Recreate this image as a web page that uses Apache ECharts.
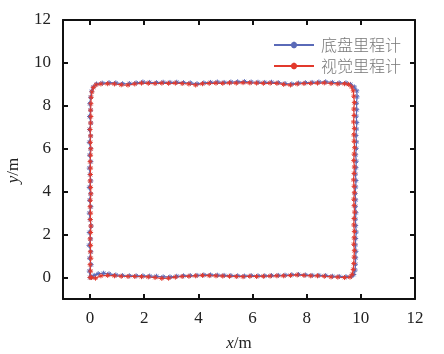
<!DOCTYPE html>
<html>
<head>
<meta charset="utf-8">
<script src="https://cdn.jsdelivr.net/npm/echarts@6/dist/echarts.min.js"></script>
<style>
  html, body { margin: 0; padding: 0; background: #fff; }
  #chart { width: 444px; height: 354px; }
</style>
</head>
<body>
<div id="chart"></div>
<script>
// 刻度
const tickValues = [0, 2, 4, 6, 8, 10, 12];
const seriesNames = ['底盘里程计', '视觉里程计'];

// 底盘里程计
const chassisX = [
  0.00, -0.03, 0.04, -0.02, 0.03, -0.04, 0.02, -0.03, 0.04, 0.00, -0.03, 0.03, -0.02, 0.02, -0.03, 0.03, 0.00, -0.03, 0.03, -0.02, 0.02, -0.03, 0.02, -0.02, 0.03, -0.02, 0.02, -0.01, 0.02, 0.06, 0.12, 0.24,
  0.45, 0.70, 0.95, 1.20, 1.45, 1.70, 1.95, 2.20, 2.45, 2.70, 2.95, 3.20, 3.45, 3.70, 3.95, 4.20, 4.45, 4.70, 4.95, 5.20, 5.45, 5.70, 5.95, 6.20, 6.45, 6.70, 6.95, 7.20, 7.45, 7.70, 7.95, 8.20, 8.45, 8.70, 8.95, 9.20, 9.45,
  9.62, 9.76, 9.85,
  9.86, 9.84, 9.85, 9.83, 9.85, 9.84, 9.82, 9.84, 9.83, 9.81, 9.83, 9.82, 9.80, 9.82, 9.81, 9.79, 9.81, 9.80, 9.82, 9.80, 9.81, 9.83, 9.81, 9.80, 9.82, 9.81, 9.80, 9.79,
  9.74, 9.66,
  9.45, 9.20, 8.95, 8.70, 8.45, 8.20, 7.95, 7.70, 7.45, 7.20, 6.95, 6.70, 6.45, 6.20, 5.95, 5.70, 5.45, 5.20, 4.95, 4.70, 4.45, 4.20, 3.95, 3.70, 3.45, 3.20, 2.95, 2.70, 2.45, 2.20, 1.95, 1.70, 1.45, 1.20, 0.95, 0.70, 0.50, 0.30, 0.15, 0.05
];
const chassisY = [
  0.00, 0.30, 0.60, 0.90, 1.20, 1.50, 1.80, 2.10, 2.40, 2.70, 3.00, 3.30, 3.60, 3.90, 4.20, 4.50, 4.80, 5.10, 5.40, 5.70, 6.00, 6.30, 6.60, 6.90, 7.20, 7.50, 7.80, 8.10, 8.40, 8.68, 8.88, 9.02,
  9.06, 9.08, 9.07, 9.03, 9.04, 9.07, 9.11, 9.09, 9.08, 9.10, 9.09, 9.10, 9.08, 9.07, 9.03, 9.07, 9.09, 9.11, 9.09, 9.11, 9.12, 9.13, 9.11, 9.10, 9.09, 9.10, 9.08, 9.04, 9.02, 9.06, 9.08, 9.09, 9.11, 9.12, 9.09, 9.07, 9.07,
  9.00, 8.88, 8.70,
  8.42, 8.12, 7.82, 7.52, 7.22, 6.92, 6.62, 6.32, 6.02, 5.72, 5.42, 5.12, 4.82, 4.52, 4.22, 3.92, 3.62, 3.32, 3.02, 2.72, 2.42, 2.12, 1.82, 1.52, 1.22, 0.92, 0.62, 0.35,
  0.14, 0.06,
  0.04, 0.05, 0.06, 0.09, 0.10, 0.10, 0.12, 0.14, 0.13, 0.11, 0.10, 0.09, 0.08, 0.08, 0.09, 0.07, 0.08, 0.09, 0.10, 0.11, 0.12, 0.12, 0.10, 0.09, 0.08, 0.06, 0.03, 0.03, 0.06, 0.07, 0.08, 0.08, 0.08, 0.09, 0.12, 0.17, 0.20, 0.18, 0.10, 0.03
];

// 视觉里程计
const visualX = [
  0.00, 0.02, 0.00, 0.03, 0.01, 0.02, 0.00, 0.02, 0.03, 0.01, 0.02, 0.00, 0.01, 0.03, 0.02, 0.00, 0.01, 0.02, 0.00, 0.02, 0.03, 0.01, 0.02, 0.00, 0.02, 0.03, 0.02, 0.03, 0.04, 0.07, 0.12, 0.22,
  0.40, 0.65, 0.90, 1.15, 1.40, 1.65, 1.90, 2.15, 2.40, 2.65, 2.90, 3.15, 3.40, 3.65, 3.90, 4.15, 4.40, 4.65, 4.90, 5.15, 5.40, 5.65, 5.90, 6.15, 6.40, 6.65, 6.90, 7.15, 7.40, 7.65, 7.90, 8.15, 8.40, 8.65, 8.90, 9.15, 9.40,
  9.55, 9.66, 9.72,
  9.74, 9.76, 9.74, 9.75, 9.73, 9.76, 9.74, 9.75, 9.77, 9.75, 9.74, 9.76, 9.75, 9.73, 9.75, 9.76, 9.74, 9.75, 9.77, 9.75, 9.74, 9.76, 9.75, 9.74, 9.76, 9.75, 9.74, 9.72,
  9.68, 9.60,
  9.40, 9.15, 8.90, 8.65, 8.40, 8.15, 7.90, 7.65, 7.40, 7.15, 6.90, 6.65, 6.40, 6.15, 5.90, 5.65, 5.40, 5.15, 4.90, 4.65, 4.40, 4.15, 3.90, 3.65, 3.40, 3.15, 2.90, 2.65, 2.40, 2.15, 1.90, 1.65, 1.40, 1.15, 0.90, 0.65, 0.40, 0.20, 0.05
];
const visualY = [
  0.00, 0.30, 0.60, 0.90, 1.20, 1.50, 1.80, 2.10, 2.40, 2.70, 3.00, 3.30, 3.60, 3.90, 4.20, 4.50, 4.80, 5.10, 5.40, 5.70, 6.00, 6.30, 6.60, 6.90, 7.20, 7.50, 7.80, 8.10, 8.40, 8.65, 8.85, 8.98,
  9.02, 9.03, 9.02, 8.98, 8.97, 9.02, 9.06, 9.05, 9.04, 9.06, 9.05, 9.06, 9.04, 9.02, 8.97, 9.03, 9.05, 9.06, 9.05, 9.07, 9.06, 9.08, 9.07, 9.06, 9.05, 9.06, 9.05, 9.00, 8.97, 9.02, 9.04, 9.05, 9.06, 9.07, 9.04, 9.02, 9.03,
  9.00, 8.88, 8.70,
  8.45, 8.15, 7.85, 7.55, 7.25, 6.95, 6.65, 6.35, 6.05, 5.75, 5.45, 5.15, 4.85, 4.55, 4.25, 3.95, 3.65, 3.35, 3.05, 2.75, 2.45, 2.15, 1.85, 1.55, 1.25, 0.95, 0.65, 0.38,
  0.15, 0.02,
  0.00, 0.02, 0.03, 0.06, 0.08, 0.08, 0.10, 0.12, 0.10, 0.08, 0.08, 0.07, 0.06, 0.05, 0.06, 0.04, 0.05, 0.06, 0.07, 0.08, 0.09, 0.10, 0.08, 0.06, 0.05, 0.02, -0.03, -0.04, 0.00, 0.03, 0.04, 0.05, 0.05, 0.06, 0.08, 0.10, 0.08, -0.03, 0.00
];

const colors = ['#5a6ab8', '#e2392c'];
const serif = '"Liberation Serif", "Times New Roman", serif';
// 星号标记
const starSymbol = 'path://M5,0L5,10M0,5L10,5M1.5,1.5L8.5,8.5M1.5,8.5L8.5,1.5';

const zip = (xs, ys) => xs.map((x, i) => [x, ys[i]]);

const axisCommon = {
  type: 'value',
  min: -1,
  max: 12,
  splitLine: { show: false },
  axisLine: { show: true, onZero: false, lineStyle: { color: '#111', width: 2 } },
  axisTick: { show: true, inside: true, length: 5, customValues: tickValues, lineStyle: { color: '#111', width: 2 } },
};

const nameStyle = {
  fontFamily: serif, fontSize: 17, color: '#222',
  rich: { i: { fontFamily: serif, fontSize: 17, fontStyle: 'italic', color: '#222' } },
};

const chartDom = document.getElementById('chart');
const mychart = echarts.init(chartDom);

const option = {
  animation: false,
  grid: { left: 63, right: 29, top: 20, bottom: 55, containLabel: false, outerBoundsMode: 'none' },
  legend: {
    orient: 'vertical',
    left: 268,
    top: 32,
    itemWidth: 40,
    itemHeight: 8,
    itemGap: 5,
    data: seriesNames,
    textStyle: { fontFamily: '"Noto Sans CJK SC"', fontSize: 16, fontWeight: 300, color: '#777', padding: [0, 0, 0, 2] },
  },
  xAxis: [
    {
      ...axisCommon,
      position: 'bottom',
      name: '{i|x}/m',
      nameLocation: 'middle',
      nameGap: 36,
      nameTextStyle: nameStyle,
      axisLabel: { customValues: tickValues, margin: 11, fontFamily: serif, fontSize: 17, color: '#222' },
    },
    {
      ...axisCommon,
      position: 'top',
      axisLabel: { show: false },
    },
  ],
  yAxis: [
    {
      ...axisCommon,
      position: 'left',
      name: '{i|y}/m',
      nameLocation: 'middle',
      nameGap: 41,
      nameRotate: 90,
      nameTextStyle: { ...nameStyle, padding: [0, 22, 0, 0] },
      axisLabel: { customValues: tickValues, margin: 12, fontFamily: serif, fontSize: 17, color: '#222' },
    },
    {
      ...axisCommon,
      position: 'right',
      axisLabel: { show: false },
    },
  ],
  series: [
    {
      name: seriesNames[0],
      type: 'line',
      data: zip(chassisX, chassisY),
      symbol: starSymbol,
      symbolSize: 5,
      showAllSymbol: true,
      lineStyle: { color: colors[0], width: 1.2 },
      itemStyle: { color: colors[0], borderColor: colors[0], borderWidth: 1 },
      xAxisIndex: 0,
      yAxisIndex: 0,
    },
    {
      name: seriesNames[1],
      type: 'line',
      data: zip(visualX, visualY),
      symbol: starSymbol,
      symbolSize: 5,
      showAllSymbol: true,
      lineStyle: { color: colors[1], width: 1.2 },
      itemStyle: { color: colors[1], borderColor: colors[1], borderWidth: 1 },
      xAxisIndex: 0,
      yAxisIndex: 0,
    },
  ],
};

mychart.setOption(option);
</script>
</body>
</html>
